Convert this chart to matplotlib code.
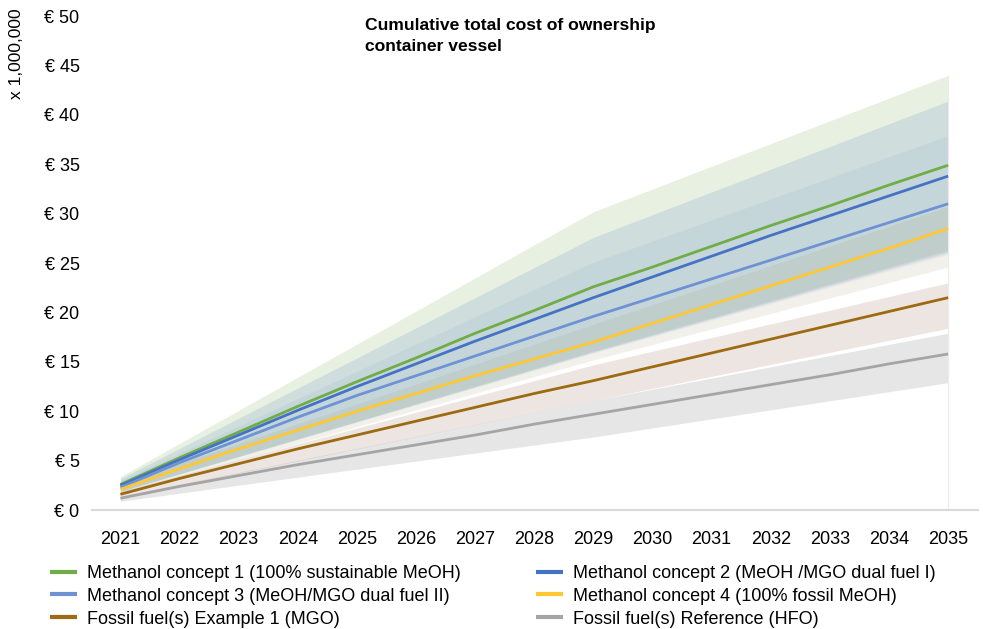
import numpy as np
import matplotlib.pyplot as plt

plt.rcParams['font.family'] = ['Liberation Sans', 'DejaVu Sans']

years = np.arange(2021, 2036)
year_labels = [str(y) for y in years]

# cumulative TCO, million euro
concept_1 = [2.6, 5.3, 7.9, 10.5, 13.0, 15.4, 17.9, 20.2, 22.6, 24.6, 26.7, 28.8, 30.8, 32.9, 34.9]
concept_2 = [2.5, 5.1, 7.6, 10.1, 12.5, 14.8, 17.1, 19.3, 21.5, 23.6, 25.7, 27.8, 29.8, 31.8, 33.8]
concept_3 = [2.3, 4.8, 7.1, 9.4, 11.6, 13.6, 15.6, 17.6, 19.6, 21.5, 23.4, 25.3, 27.2, 29.1, 31.0]
concept_4 = [2.1, 4.2, 6.2, 8.1, 10.0, 11.8, 13.6, 15.3, 17.0, 18.9, 20.8, 22.7, 24.6, 26.5, 28.5]
fossil_mgo = [1.6, 3.2, 4.7, 6.2, 7.6, 9.0, 10.4, 11.8, 13.1, 14.5, 15.9, 17.3, 18.7, 20.1, 21.5]
fossil_hfo = [1.2, 2.4, 3.5, 4.6, 5.6, 6.6, 7.6, 8.7, 9.7, 10.7, 11.7, 12.7, 13.7, 14.8, 15.8]

# uncertainty ranges (low / high) at the scenario years
band_years = [2021, 2029, 2035]
concept_1_hi = [3.4, 30.2, 44.0]
concept_1_lo = [1.9, 16.1, 26.3]
concept_2_hi = [3.2, 27.6, 41.4]
concept_2_lo = [1.9, 16.0, 26.1]
concept_3_hi = [3.0, 25.1, 37.9]
concept_3_lo = [1.9, 15.9, 25.9]
concept_4_hi = [2.7, 18.8, 30.7]
concept_4_lo = [1.7, 15.2, 24.6]
fossil_mgo_hi = [1.9, 14.7, 23.0]
fossil_mgo_lo = [1.3, 11.1, 18.4]
fossil_hfo_hi = [1.4, 11.1, 17.9]
fossil_hfo_lo = [0.9, 7.4, 12.9]

labels = ['Methanol concept 1 (100% sustainable MeOH)',
          'Methanol concept 2 (MeOH /MGO dual fuel I)',
          'Methanol concept 3 (MeOH/MGO dual fuel II)',
          'Methanol concept 4 (100% fossil MeOH)',
          'Fossil fuel(s) Example 1 (MGO)',
          'Fossil fuel(s) Reference (HFO)']
line_colors = ['#70AD47', '#4472C4', '#6F92D3', '#FFC832', '#9C6A10', '#A5A5A5']
band_colors = ['#70AD47', '#4472C4', '#6F92D3', '#9A9260', '#8C5236', '#878287']
band_alpha = [0.16, 0.15, 0.10, 0.13, 0.15, 0.2]

series = [concept_1, concept_2, concept_3, concept_4, fossil_mgo, fossil_hfo]
bands = [(concept_1_lo, concept_1_hi), (concept_2_lo, concept_2_hi),
         (concept_3_lo, concept_3_hi), (concept_4_lo, concept_4_hi),
         (fossil_mgo_lo, fossil_mgo_hi), (fossil_hfo_lo, fossil_hfo_hi)]

fig = plt.figure(figsize=(9.83, 6.29), dpi=100)
ax = fig.add_axes([0.0936, 0.189, 0.901, 0.7855])

for (lo, hi), c, a in zip(bands, band_colors, band_alpha):
    ax.fill_between(band_years, lo, hi, color=c, alpha=a, lw=0)
ax.vlines(years[-1], 0, concept_1_hi[-1], color='#EBEBEB', lw=0.8)

for vals, c, lab in zip(series, line_colors, labels):
    ax.plot(years, vals, color=c, lw=2.0, label=lab, solid_capstyle='butt')

ax.set_xlim(2020.52, 2035.5)
ax.set_ylim(0, 50)
ax.set_xticks(years)
ax.set_xticklabels(year_labels)
ax.set_yticks(np.arange(0, 51, 5))
ax.set_yticklabels(['€ %d' % v for v in np.arange(0, 51, 5)])
ax.tick_params(axis='both', length=0, labelsize=13, colors='#000000')
ax.tick_params(axis='x', pad=15)
ax.tick_params(axis='y', pad=9)
for s in ['top', 'right', 'left']:
    ax.spines[s].set_visible(False)
ax.spines['bottom'].set_color('#D9D9D9')
ax.spines['bottom'].set_linewidth(1.5)

fig.text(17 / 983, 1 - 54 / 629, 'x 1,000,000', rotation=90, ha='center', va='center', fontsize=12.5)
fig.text(365 / 983, 1 - 18 / 629, 'Cumulative total cost of ownership\ncontainer vessel',
         ha='left', va='top', fontsize=12.6, fontweight='bold', linespacing=1.5)

# legend filled row by row, two columns
handles, labs = ax.get_legend_handles_labels()
order = [0, 2, 4, 1, 3, 5]
leg = fig.legend([handles[i] for i in order], [labs[i] for i in order],
                 loc='upper left', bbox_to_anchor=(50 / 983, 1 - 565 / 629),
                 ncol=2, frameon=False, fontsize=13, borderaxespad=0, borderpad=0,
                 handlelength=1.5, handletextpad=0.55, columnspacing=4.15, labelspacing=0.32)
for h in leg.get_lines():
    h.set_linewidth(3)

fig.savefig('out.png', dpi=100)
